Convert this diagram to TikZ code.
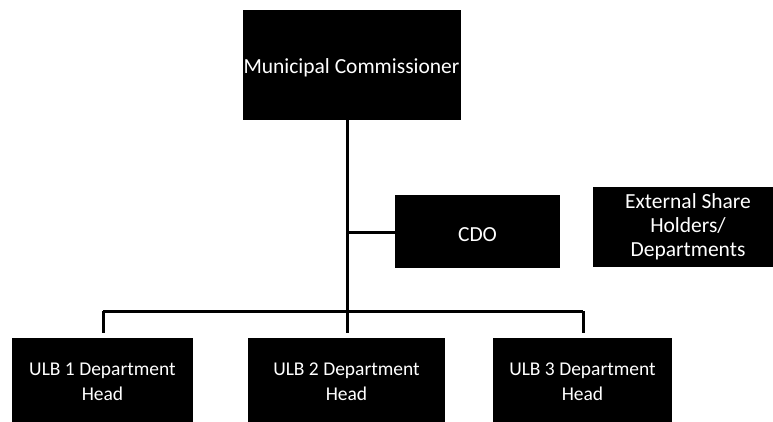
\documentclass[tikz,border=0pt]{standalone}
\usepackage{fontspec}
\setmainfont{Carlito}
\begin{document}
\begin{tikzpicture}[x=1pt,y=-1pt,
  box/.style={fill=black,draw=none,inner sep=0pt},
  txt/.style={text=white,align=center,inner sep=0pt,font=\fontsize{21.5}{24}\selectfont},
  utxt/.style={text=white,align=center,inner sep=0pt,font=\fontsize{19.5}{25}\selectfont},
  conn/.style={line width=3pt,draw=black}]
\useasboundingbox (0,0) rectangle (773,421);
\begin{scope}
\clip (0,0) rectangle (773,421);
\node[box,minimum width=218pt,minimum height=110pt] (mc) at (351.5,65) {};
\node[txt] (mct) at (351.5,68) {Municipal Commissioner};
\node[box,minimum width=165pt,minimum height=73pt] (cdo) at (477.5,231.5) {};
\node[txt] (cdot) at (477.5,235) {CDO};
\node[box,minimum width=190pt,minimum height=80pt] (ext) at (688,227) {};
\node[txt] (extt) at (688,227) {External Share\\Holders/\\Departments};
\node[box,minimum width=181pt,minimum height=100pt] (u1) at (102.5,388) {};
\node[utxt] (u1t) at (102.5,381.5) {ULB 1 Department\\Head};
\node[box,minimum width=197pt,minimum height=100pt] (u2) at (346.5,388) {};
\node[utxt] (u2t) at (346.5,381.5) {ULB 2 Department\\Head};
\node[box,minimum width=179pt,minimum height=100pt] (u3) at (582.5,388) {};
\node[utxt] (u3t) at (582.5,381.5) {ULB 3 Department\\Head};
\end{scope}
\coordinate (bar) at (347,311);
\coordinate (b1) at (103,311);
\coordinate (b3) at (583,311);
\coordinate (cj) at (347,232);
\draw[conn] (mc.south -| bar) -- (bar);
\draw[conn] (cdo.west |- cj) -- (cj);
\draw[conn] (b1) -- (b3);
\draw[conn] (b1) -- ([yshift=5pt]u1.north -| b1);
\draw[conn] (bar) -- ([yshift=5pt]u2.north -| bar);
\draw[conn] (b3) -- ([yshift=5pt]u3.north -| b3);
\end{tikzpicture}
\end{document}
